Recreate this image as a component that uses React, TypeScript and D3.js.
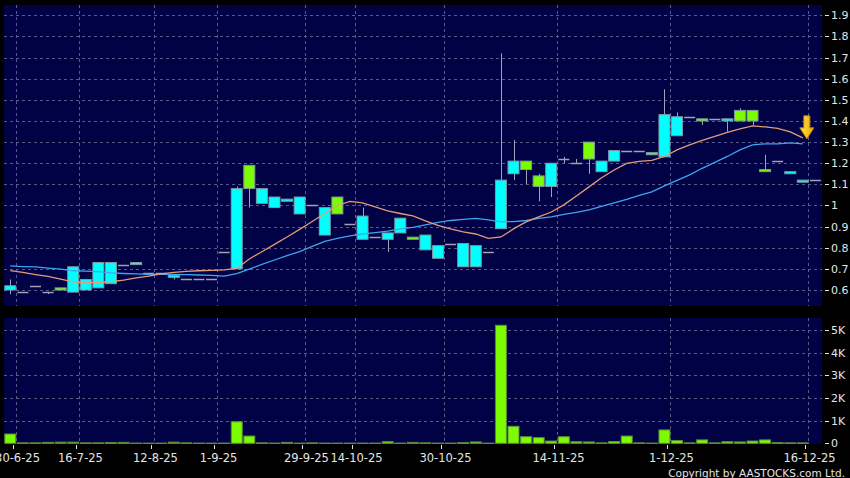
import { useEffect, useRef } from "react";
import * as d3 from "d3";

// daily candles, oldest first
const opens = [
  0.62, 0.59, 0.62, 0.59, 0.6, 0.71, 0.65, 0.73, 0.73, 0.72, 0.73, 0.68, 0.68,
  0.67, 0.65, 0.65, 0.65, 0.78, 1.08, 1.08, 1.08, 1.04, 1.03, 1.04, 1.0, 0.99,
  0.96, 0.91, 0.95, 0.85, 0.87, 0.94, 0.84, 0.86, 0.81, 0.82, 0.82, 0.81, 0.78,
  1.12, 1.21, 1.17, 1.09, 1.2, 1.22, 1.2, 1.22, 1.21, 1.26, 1.26, 1.26, 1.24,
  1.43, 1.42, 1.42, 1.4, 1.41, 1.41, 1.4, 1.4, 1.16, 1.21, 1.16, 1.12, 1.12,
];
const highs = [
  0.65, 0.59, 0.62, 0.59, 0.61, 0.71, 0.65, 0.73, 0.73, 0.72, 0.73, 0.68, 0.68,
  0.67, 0.65, 0.65, 0.65, 0.78, 1.09, 1.19, 1.08, 1.04, 1.03, 1.04, 1.0, 0.99,
  1.04, 0.91, 0.99, 0.85, 0.87, 0.94, 0.85, 0.86, 0.81, 0.82, 0.82, 0.81, 0.78,
  1.72, 1.31, 1.21, 1.15, 1.2, 1.23, 1.22, 1.3, 1.21, 1.26, 1.26, 1.26, 1.25,
  1.55, 1.44, 1.42, 1.41, 1.41, 1.41, 1.46, 1.45, 1.24, 1.21, 1.16, 1.12, 1.12,
];
const lows = [
  0.58, 0.59, 0.62, 0.58, 0.6, 0.59, 0.6, 0.61, 0.63, 0.72, 0.72, 0.68, 0.68,
  0.65, 0.65, 0.65, 0.65, 0.78, 0.7, 0.99, 1.01, 0.99, 1.02, 0.96, 1.0, 0.86,
  0.96, 0.91, 0.84, 0.85, 0.78, 0.87, 0.84, 0.79, 0.75, 0.82, 0.71, 0.71, 0.78,
  0.89, 1.12, 1.1, 1.02, 1.04, 1.2, 1.2, 1.15, 1.16, 1.21, 1.26, 1.26, 1.24,
  1.23, 1.33, 1.42, 1.38, 1.41, 1.35, 1.4, 1.38, 1.16, 1.21, 1.15, 1.11, 1.12,
];
const closes = [
  0.6, 0.59, 0.62, 0.59, 0.61, 0.59, 0.6, 0.61, 0.63, 0.72, 0.72, 0.68, 0.68,
  0.66, 0.65, 0.65, 0.65, 0.78, 0.7, 1.19, 1.01, 0.99, 1.02, 0.96, 1.0, 0.86,
  1.04, 0.91, 0.84, 0.85, 0.84, 0.87, 0.85, 0.79, 0.75, 0.82, 0.71, 0.71, 0.78,
  0.89, 1.15, 1.21, 1.14, 1.09, 1.22, 1.2, 1.3, 1.16, 1.21, 1.26, 1.26, 1.25,
  1.23, 1.33, 1.42, 1.41, 1.41, 1.4, 1.45, 1.45, 1.17, 1.21, 1.15, 1.11, 1.12,
];
const volumes = [
  410, 20, 20, 40, 50, 50, 20, 20, 30, 40, 10, 10, 10, 50, 20, 10, 10, 10, 950,
  320, 20, 10, 40, 10, 20, 10, 10, 10, 10, 10, 70, 10, 40, 20, 10, 10, 30, 60,
  10, 5200, 750, 290, 250, 100, 290, 70, 60, 20, 80, 320, 20, 10, 590, 120, 20,
  150, 20, 70, 60, 100, 150, 30, 20, 20, 0,
];
const ma10 = [
  0.692, 0.683, 0.673, 0.664, 0.652, 0.638, 0.635, 0.636, 0.639, 0.647, 0.657,
  0.666, 0.676, 0.683, 0.688, 0.691, 0.693, 0.695, 0.702, 0.747, 0.781, 0.816,
  0.851, 0.887, 0.924, 0.962, 1.0, 1.019, 1.012, 0.993, 0.974, 0.962, 0.951,
  0.927, 0.906, 0.889, 0.875, 0.865, 0.844, 0.851, 0.889, 0.922, 0.946, 0.969,
  1.003, 1.045, 1.088, 1.131, 1.168, 1.199, 1.209, 1.213, 1.232, 1.263, 1.287,
  1.308, 1.327, 1.346, 1.363, 1.377, 1.372, 1.365, 1.348, 1.32,
];
const ma20 = [
  0.714, 0.711, 0.709, 0.704, 0.699, 0.691, 0.689, 0.687, 0.681, 0.678, 0.676,
  0.674, 0.674, 0.674, 0.673, 0.671, 0.669, 0.666, 0.678, 0.699, 0.721, 0.742,
  0.763, 0.782, 0.806, 0.83, 0.844, 0.856, 0.865, 0.872, 0.879, 0.889, 0.896,
  0.908, 0.92, 0.929, 0.934, 0.939, 0.932, 0.922, 0.924, 0.929, 0.939, 0.946,
  0.958, 0.967, 0.979, 0.996, 1.012, 1.029, 1.048, 1.064, 1.093, 1.119, 1.145,
  1.176, 1.204, 1.232, 1.263, 1.287, 1.292, 1.292, 1.296, 1.292,
];
const dateTickIndex = [0, 5, 11, 16, 23, 27, 34, 43, 52, 63];
const dateTickLabels = [
  "30-6-25", "16-7-25", "12-8-25", "1-9-25", "29-9-25",
  "14-10-25", "30-10-25", "14-11-25", "1-12-25", "16-12-25",
];
const priceTicks = [0.6, 0.7, 0.8, 0.9, 1, 1.1, 1.2, 1.3, 1.4, 1.5, 1.6, 1.7, 1.8, 1.9];
const volumeTicks = [0, 1000, 2000, 3000, 4000, 5000];
const volumeTickLabels = ["0", "1K", "2K", "3K", "4K", "5K"];

const W = 850;
const H = 478;
const panelLeft = 4;
const panelRight = 822;
const priceTop = 5;
const priceBottom = 306;
const volTop = 318;
const volBottom = 444;

const App = () => {
  const ref = useRef<SVGSVGElement>(null);

  useEffect(() => {
    if (!ref.current) return;
    const svg = d3.select(ref.current);
    svg.selectAll("*").remove();

    const n = closes.length;
    const x = d3.scaleLinear().domain([0, n - 1]).range([10.3, 10.3 + 12.58 * (n - 1)]);
    const y = d3.scaleLinear().domain([0.6, 1.9]).range([290, 15.3]);
    const yv = d3.scaleLinear().domain([0, 5000]).range([443.3, 329.8]);
    const half = 5.5;
    const gridX = (i: number) => Math.round(x(i) + 5.5) + 0.5;

    svg.append("rect").attr("width", W).attr("height", H).attr("fill", "#000");

    const defs = svg.append("defs");
    defs.append("clipPath").attr("id", "clipPrice")
      .append("rect").attr("x", panelLeft).attr("y", priceTop)
      .attr("width", panelRight - panelLeft).attr("height", priceBottom - priceTop);
    defs.append("clipPath").attr("id", "clipVol")
      .append("rect").attr("x", panelLeft).attr("y", volTop)
      .attr("width", panelRight - panelLeft).attr("height", volBottom - volTop);
    const grad = defs.append("linearGradient").attr("id", "arrowGrad")
      .attr("x1", 0).attr("x2", 1).attr("y1", 0).attr("y2", 0);
    grad.append("stop").attr("offset", "0%").attr("stop-color", "#ffe94a");
    grad.append("stop").attr("offset", "100%").attr("stop-color", "#f2a300");

    // panels
    svg.append("rect").attr("x", panelLeft).attr("y", priceTop)
      .attr("width", panelRight - panelLeft).attr("height", priceBottom - priceTop)
      .attr("fill", "#010146");
    svg.append("rect").attr("x", panelLeft).attr("y", volTop)
      .attr("width", panelRight - panelLeft).attr("height", volBottom - volTop)
      .attr("fill", "#010146");

    const gridColor = "#5a5a88";

    // price grid
    const pg = svg.append("g").attr("clip-path", "url(#clipPrice)");
    pg.selectAll(".hgrid").data(priceTicks).enter().append("line")
      .attr("x1", panelLeft).attr("x2", panelRight)
      .attr("y1", (d) => Math.round(y(d)) + 0.5).attr("y2", (d) => Math.round(y(d)) + 0.5)
      .attr("stroke", gridColor).attr("stroke-dasharray", "3,3");
    pg.selectAll(".vgrid").data(dateTickIndex).enter().append("line")
      .attr("x1", gridX).attr("x2", gridX)
      .attr("y1", priceTop).attr("y2", priceBottom)
      .attr("stroke", gridColor).attr("stroke-dasharray", "3,3");

    // volume grid
    const vg = svg.append("g").attr("clip-path", "url(#clipVol)");
    vg.selectAll(".hgrid").data(volumeTicks.slice(1)).enter().append("line")
      .attr("x1", panelLeft).attr("x2", panelRight)
      .attr("y1", (d) => Math.round(yv(d)) + 0.5).attr("y2", (d) => Math.round(yv(d)) + 0.5)
      .attr("stroke", gridColor).attr("stroke-dasharray", "3,3");
    vg.selectAll(".vgrid").data(dateTickIndex).enter().append("line")
      .attr("x1", gridX).attr("x2", gridX)
      .attr("y1", volTop).attr("y2", volBottom)
      .attr("stroke", gridColor).attr("stroke-dasharray", "3,3");

    const idx = d3.range(n);
    const upColor = "#7cfc00";
    const downColor = "#00ffff";
    const edgeColor = "#7b9aa0";
    const wickColor = "#a2a2b4";

    // wicks
    pg.selectAll(".wick").data(idx.filter((i) => highs[i] > lows[i])).enter().append("line")
      .attr("x1", (i) => Math.round(x(i)) + 0.5).attr("x2", (i) => Math.round(x(i)) + 0.5)
      .attr("y1", (i) => y(highs[i])).attr("y2", (i) => y(lows[i]))
      .attr("stroke", wickColor);

    // flat candles (open == close)
    pg.selectAll(".flat").data(idx.filter((i) => opens[i] === closes[i])).enter().append("line")
      .attr("x1", (i) => x(i) - half).attr("x2", (i) => x(i) + half)
      .attr("y1", (i) => Math.round(y(closes[i])) + 0.5)
      .attr("y2", (i) => Math.round(y(closes[i])) + 0.5)
      .attr("stroke", wickColor).attr("stroke-width", 1.5);

    // bodies
    pg.selectAll(".body").data(idx.filter((i) => opens[i] !== closes[i])).enter().append("rect")
      .attr("x", (i) => x(i) - half)
      .attr("width", half * 2)
      .attr("y", (i) => y(Math.max(opens[i], closes[i])))
      .attr("height", (i) => Math.max(1, Math.abs(y(opens[i]) - y(closes[i]))))
      .attr("fill", (i) => (closes[i] > opens[i] ? upColor : downColor))
      .attr("stroke", edgeColor).attr("stroke-width", 1);

    // moving averages
    const line = d3.line<number>().x((_, i) => x(i)).y((d) => y(d));
    pg.append("path").datum(ma20).attr("d", line)
      .attr("fill", "none").attr("stroke", "#3ea6ee").attr("stroke-width", 1.3);
    pg.append("path").datum(ma10).attr("d", line)
      .attr("fill", "none").attr("stroke", "#e59a78").attr("stroke-width", 1.3);

    // last signal arrow
    const ax = x(ma10.length - 1) + 4;
    const ay = y(ma10[ma10.length - 1]) + 1;
    pg.append("path")
      .attr("d", `M${ax - 3},${ay - 23} L${ax + 3},${ay - 23} L${ax + 3},${ay - 11} L${ax + 7},${ay - 11} L${ax},${ay} L${ax - 7},${ay - 11} L${ax - 3},${ay - 11} Z`)
      .attr("fill", "url(#arrowGrad)").attr("stroke", "#c98400").attr("stroke-width", 1);

    // volume bars
    vg.selectAll(".vol").data(idx.filter((i) => volumes[i] > 0)).enter().append("rect")
      .attr("x", (i) => x(i) - half)
      .attr("width", half * 2)
      .attr("y", (i) => yv(volumes[i]))
      .attr("height", (i) => Math.max(1, yv(0) - yv(volumes[i])))
      .attr("fill", upColor).attr("stroke", "#5c8a3a").attr("stroke-width", 1);

    const textColor = "#e4e4e4";
    const font = "DejaVu Sans, Verdana, sans-serif";

    // right price axis
    const pa = svg.append("g");
    pa.selectAll("line").data(priceTicks).enter().append("line")
      .attr("x1", 825).attr("x2", 829)
      .attr("y1", (d) => Math.round(y(d)) + 0.5).attr("y2", (d) => Math.round(y(d)) + 0.5)
      .attr("stroke", textColor);
    pa.selectAll("text").data(priceTicks).enter().append("text")
      .attr("x", 831).attr("y", (d) => y(d) + 4)
      .text((d) => d3.format("~g")(d))
      .attr("fill", textColor).attr("font-family", font).attr("font-size", "11px");

    // right volume axis
    const va = svg.append("g");
    va.selectAll("line").data(volumeTicks).enter().append("line")
      .attr("x1", 825).attr("x2", 829)
      .attr("y1", (d) => Math.round(yv(d)) + 0.5).attr("y2", (d) => Math.round(yv(d)) + 0.5)
      .attr("stroke", textColor);
    va.selectAll("text").data(volumeTicks).enter().append("text")
      .attr("x", 831).attr("y", (d) => yv(d) + 4)
      .text((_, i) => volumeTickLabels[i])
      .attr("fill", textColor).attr("font-family", font).attr("font-size", "11px");

    // date axis
    const da = svg.append("g");
    da.selectAll("line").data(dateTickIndex).enter().append("line")
      .attr("x1", (i) => gridX(i) - 3).attr("x2", (i) => gridX(i) - 3)
      .attr("y1", 445).attr("y2", 449)
      .attr("stroke", textColor);
    da.selectAll("text").data(dateTickIndex).enter().append("text")
      .attr("x", (i) => gridX(i) + 1).attr("y", 462)
      .attr("text-anchor", "middle")
      .text((_, k) => dateTickLabels[k])
      .attr("fill", textColor).attr("font-family", font).attr("font-size", "11.5px");

    svg.append("text")
      .attr("x", 845).attr("y", 476.5)
      .attr("text-anchor", "end")
      .text("Copyright by AASTOCKS.com Ltd.")
      .attr("fill", textColor).attr("font-family", font).attr("font-size", "10.5px");
  }, []);

  return (
    <svg
      ref={ref}
      width={W}
      height={H}
      style={{ position: "absolute", left: 0, top: 0, display: "block" }}
    />
  );
};

export default App;
